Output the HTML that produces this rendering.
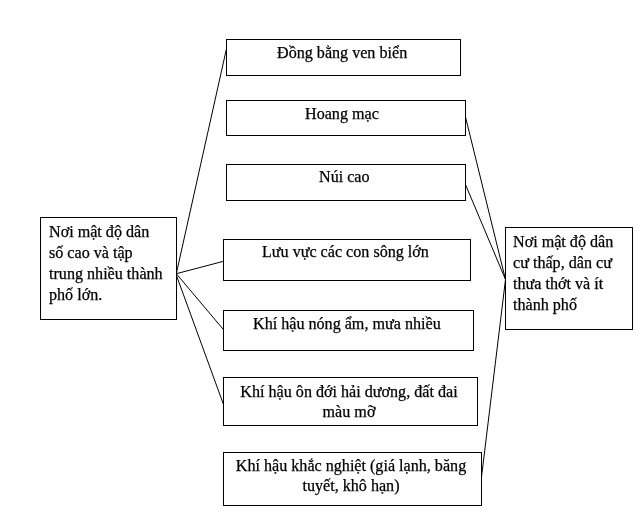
<!DOCTYPE html>
<html><head><meta charset="utf-8">
<style>
html,body{margin:0;padding:0;background:#fff;}
body{width:644px;height:530px;position:relative;overflow:hidden;font-family:"Liberation Serif",serif;font-size:16.13px;line-height:20.67px;color:#000;}
.b{position:absolute;box-sizing:border-box;border:1px solid #000;background:#fff;}
.t{position:absolute;white-space:nowrap;will-change:transform;-webkit-text-stroke:0.25px #000;}
.c{text-align:center;}
svg{position:absolute;left:0;top:0;}
</style></head><body>
<svg width="644" height="530" viewBox="0 0 644 530">
<g stroke="#000" stroke-width="1" fill="none">
<line x1="176.3" y1="273.7" x2="226.3" y2="49.5"/>
<line x1="176.3" y1="273.7" x2="223.5" y2="261.3"/>
<line x1="176.3" y1="273.7" x2="223.5" y2="329.7"/>
<line x1="175.8" y1="273.7" x2="223.5" y2="404.5"/>
<line x1="505.5" y1="279.5" x2="465.6" y2="117.4"/>
<line x1="505.5" y1="279.5" x2="465.6" y2="184.8"/>
<line x1="505.5" y1="279.5" x2="481.5" y2="477"/>
</g>
</svg>
<div class="b" style="left:40px;top:217px;width:137px;height:103px;"></div>
<div class="b" style="left:505px;top:227px;width:128px;height:103px;"></div>
<div class="b" style="left:226px;top:39px;width:235px;height:37px;"></div>
<div class="b" style="left:226px;top:100px;width:240px;height:36px;"></div>
<div class="b" style="left:226px;top:164px;width:240px;height:37px;"></div>
<div class="b" style="left:223px;top:239px;width:248px;height:42px;"></div>
<div class="b" style="left:223px;top:310px;width:251px;height:41px;"></div>
<div class="b" style="left:223px;top:377px;width:255px;height:49px;"></div>
<div class="b" style="left:223px;top:452px;width:259px;height:54px;"></div>

<div class="t" style="left:48.8px;top:221.1px;line-height:21px;">Nơi mật độ dân<br>số cao và tập<br>trung nhiều thành<br>phố lớn.</div>
<div class="t" style="left:513.1px;top:231.1px;line-height:21px;">Nơi mật độ dân<br>cư thấp, dân cư<br>thưa thớt và ít<br>thành phố</div>
<div class="t" style="left:277.4px;top:43px;">Đồng bằng ven biển</div>
<div class="t" style="left:304.9px;top:103.7px;">Hoang mạc</div>
<div class="t" style="left:319.3px;top:167.2px;">Núi cao</div>
<div class="t" style="left:262.4px;top:241.9px;">Lưu vực các con sông lớn</div>
<div class="t" style="left:253.3px;top:314.4px;">Khí hậu nóng ẩm, mưa nhiều</div>
<div class="t c" style="left:229px;width:240px;top:382.1px;line-height:20.3px;">Khí hậu ôn đới hải dương, đất đai<br>màu mỡ</div>
<div class="t c" style="left:231px;width:240px;top:455.6px;line-height:20.3px;">Khí hậu khắc nghiệt (giá lạnh, băng<br>tuyết, khô hạn)</div>
</body></html>
